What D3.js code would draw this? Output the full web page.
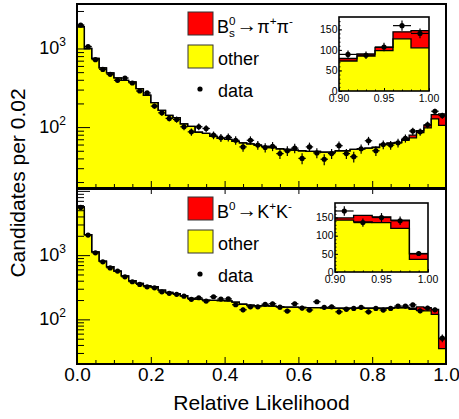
<!DOCTYPE html>
<html>
<head>
<meta charset="utf-8">
<script src="https://cdn.jsdelivr.net/npm/d3@7"></script>
<style>
  body { margin: 0; background: #fff; }
  text { font-family: "Liberation Sans", Arial, Helvetica, sans-serif; }
</style>
</head>
<body>
<div id="viz"></div>
<script>
const width = 459;
const height = 419;
const binWidth = 0.02; // 50 bins over [0, 1]

// ---- upper panel: Bs -> pi+ pi- ----
const topData = [1985, 1060, 720, 542, 469, 394, 421, 364, 288, 272, 185, 152, 129, 125, 101, 87, 101,
  96, 79, 73, 74, 68, 56, 68, 59, 55, 57, 46, 50, 54, 40, 56, 47, 39, 46, 58, 46, 42, 53, 67, 50, 60, 59, 63, 72,
  89, 87, 107, 159, 140];
const topOther = [1890, 1000, 746, 566, 489, 422, 394, 375, 308, 254, 205, 163, 141, 132, 110, 102, 86,
  83, 76, 72, 70, 66, 63, 61, 59, 57, 55, 53, 52, 51, 50, 49, 49, 48, 48, 50, 50, 52, 53, 54, 55, 60, 62, 63, 68,
  73, 85, 98, 127, 105];
const topSignal = [0, 0, 0, 0, 0, 0, 0, 0, 0, 0, 0, 0, 0, 0, 0, 0, 0, 0, 0, 0, 0, 0, 0, 0, 0,
  0, 0, 0, 0, 0, 0, 0, 0, 0, 0, 0, 0, 0, 0, 0, 0.5, 0.5, 1, 1, 2,
  6, 5, 8, 17, 42];

// ---- lower panel: B0 -> K+ K- ----
const botData = [5520, 2050, 1085, 787, 633, 564, 460, 385, 350, 321, 310, 268, 254, 245, 230, 205, 217,
  193, 225, 207, 208, 169, 141, 157, 157, 172, 175, 155, 135, 175, 150, 140, 188, 154, 157, 131, 144, 148, 154, 131, 148, 140, 148, 161, 161,
  168, 136, 150, 141, 51];
const botOther = [5630, 2090, 1127, 806, 659, 564, 477, 399, 363, 334, 322, 286, 263, 251, 233, 212, 207,
  200, 198, 196, 194, 185, 172, 167, 164, 163, 161, 158, 155, 155, 154, 152, 152, 151, 150, 149, 149, 149, 149, 149, 149, 149, 150, 151, 151,
  143, 138, 136, 120, 35];
const botSignal = [0, 0, 0, 0, 0, 0, 0, 0, 0, 0, 0, 0, 0, 0, 0, 0, 0, 0, 0, 0, 0, 0, 0, 0, 0,
  0, 0, 0, 0, 0, 0, 0, 0, 0, 0, 0, 0, 0, 0, 0, 1, 1, 1, 2, 2,
  6, 18, 16, 23, 15];

const xTicks = [0, 0.2, 0.4, 0.6, 0.8, 1.0];
const yLabelTicks = [100, 1000];
const insetXTicks = [0.90, 0.95, 1.00];
const insetYTicks = [0, 50, 100, 150];
const insetFirstBin = 45; // 0.90 - 1.00

// legend labels (text pieces; sub / superscripts)
const topSignalLabel = [{t: 'B'}, {t: 's', small: true, shift: 4, stack: true}, {t: '0', small: true, shift: -8},
  {t: '\u2192', arrow: true}, {t: '\u03c0'}, {t: '+', small: true, shift: -8}, {t: '\u03c0'}, {t: '-', small: true, shift: -8}];
const botSignalLabel = [{t: 'B'}, {t: '0', small: true, shift: -8},
  {t: '\u2192', arrow: true}, {t: ' K'}, {t: '+', small: true, shift: -8}, {t: 'K'}, {t: '-', small: true, shift: -8}];

const yellow = '#ffff00';
const red = '#ff0000';

const svg = d3.select('#viz').append('svg')
  .attr('width', width)
  .attr('height', height);

const x = d3.scaleLinear().domain([0, 1]).range([77, 446]);

const panels = [
  {id: 'top', data: topData, other: topOther, signal: topSignal, top: 4, bottom: 188, domain: [16.8, 3680],
   label: topSignalLabel, legY: 12, inset: {left: 339, right: 429, top: 17, bottom: 91, ymax: 180}, xLabels: false},
  {id: 'bot', data: botData, other: botOther, signal: botSignal, top: 189, bottom: 364, domain: [20.2, 10700],
   label: botSignalLabel, legY: 197, inset: {left: 335, right: 428, top: 203, bottom: 272, ymax: 190}, xLabels: true}
];

const richText = (g, x0, y0, pieces, size) => {
  let cx = x0;
  pieces.forEach(p => {
    const t = g.append('text')
      .attr('x', cx)
      .attr('y', y0 + (p.shift || 0))
      .attr('font-size', p.small ? size * 0.65 : size)
      .text(p.t);
    if (p.arrow) {
      t.attr('font-family', '"DejaVu Sans", sans-serif')
        .attr('font-size', size * 1.15)
        .attr('x', cx + 1)
        .attr('y', y0 - 1.5);
      cx += 1;
    }
    if (!p.stack) cx += t.node().getComputedTextLength();
  });
};

const drawHist = (g, xs, ys, other, signal, yBase, first) => {
  const edges = other.map((d, i) => (first + i) * binWidth).concat([(first + other.length) * binWidth]);
  const total = other.map((d, i) => d + signal[i]);
  const pad = arr => arr.concat([arr[arr.length - 1]]);

  const yellowArea = d3.area()
    .x((d, i) => xs(edges[i]))
    .y0(yBase)
    .y1(d => ys(d))
    .curve(d3.curveStepAfter);
  g.append('path').attr('d', yellowArea(pad(other))).attr('fill', yellow);

  const redArea = d3.area()
    .x((d, i) => xs(edges[i]))
    .y0(d => ys(d[0]))
    .y1(d => ys(d[1]))
    .curve(d3.curveStepAfter);
  g.append('path')
    .attr('d', redArea(pad(other.map((d, i) => [d, total[i]]))))
    .attr('fill', red);

  const outline = d3.line()
    .x((d, i) => xs(edges[i]))
    .y(d => ys(d))
    .curve(d3.curveStepAfter);
  [other, total].forEach(arr => {
    g.append('path')
      .attr('d', outline(pad(arr)))
      .attr('fill', 'none')
      .attr('stroke', '#000')
      .attr('stroke-width', 1.3);
  });
};

const drawPoints = (g, xs, ys, data, first, r) => {
  const pts = g.append('g').selectAll('g')
    .data(data)
    .join('g');
  pts.append('line')
    .attr('x1', (d, i) => xs((first + i) * binWidth))
    .attr('x2', (d, i) => xs((first + i + 1) * binWidth))
    .attr('y1', d => ys(d)).attr('y2', d => ys(d))
    .attr('stroke', '#000').attr('stroke-width', 1.2);
  pts.append('line')
    .attr('x1', (d, i) => xs((first + i + 0.5) * binWidth))
    .attr('x2', (d, i) => xs((first + i + 0.5) * binWidth))
    .attr('y1', d => ys(d - Math.sqrt(d)))
    .attr('y2', d => ys(d + Math.sqrt(d)))
    .attr('stroke', '#000').attr('stroke-width', 1.2);
  pts.append('circle')
    .attr('cx', (d, i) => xs((first + i + 0.5) * binWidth))
    .attr('cy', d => ys(d))
    .attr('r', r)
    .attr('fill', '#000');
};

panels.forEach(p => {
  const y = d3.scaleLog().domain(p.domain).range([p.bottom, p.top]);
  const g = svg.append('g');

  svg.append('clipPath').attr('id', 'clip-' + p.id)
    .append('rect')
    .attr('x', x(0)).attr('y', p.top)
    .attr('width', x(1) - x(0)).attr('height', p.bottom - p.top);

  const plot = g.append('g').attr('clip-path', `url(#clip-${p.id})`);
  drawHist(plot, x, y, p.other, p.signal, p.bottom, 0);
  drawPoints(plot, x, y, p.data, 0, 2.6);

  // y axis: major and minor ticks
  const majors = y.ticks().filter(v => Math.abs(Math.log10(v) - Math.round(Math.log10(v))) < 1e-9);
  const minors = y.ticks().filter(v => !majors.includes(v));
  g.append('g')
    .attr('transform', `translate(${x(0)},0)`)
    .call(d3.axisLeft(y).tickValues(majors).tickSize(-13).tickFormat(''))
    .call(a => a.select('.domain').remove());
  g.append('g')
    .attr('transform', `translate(${x(0)},0)`)
    .call(d3.axisLeft(y).tickValues(minors).tickSize(-7).tickFormat(''))
    .call(a => a.select('.domain').remove());
  g.selectAll('.tick line').attr('stroke-width', 1);

  yLabelTicks.forEach(v => {
    const t = g.append('text')
      .attr('x', 66)
      .attr('y', y(v) + 6)
      .attr('text-anchor', 'end')
      .attr('font-size', 18);
    t.append('tspan').text('10');
    t.append('tspan').attr('dy', -8).attr('font-size', 12).text(Math.round(Math.log10(v)));
  });

  // x axis ticks (pointing inward)
  const xMinor = d3.range(0, 1.0001, 0.05).filter(v => !xTicks.some(t => Math.abs(t - v) < 1e-6));
  const xAxisMajor = g.append('g')
    .attr('transform', `translate(0,${p.bottom})`)
    .call(d3.axisBottom(x).tickValues(xTicks).tickSize(-7).tickPadding(4)
      .tickFormat(p.xLabels ? d3.format('.1f') : ''))
    .call(a => a.select('.domain').remove());
  xAxisMajor.selectAll('text')
    .attr('font-size', 19)
    .attr('font-family', '"Liberation Sans", Arial, sans-serif')
    .attr('fill', '#000');
  g.append('g')
    .attr('transform', `translate(0,${p.bottom})`)
    .call(d3.axisBottom(x).tickValues(xMinor).tickSize(-4).tickFormat(''))
    .call(a => a.select('.domain').remove());
  if (p.xLabels) {
    g.append('g')
      .attr('transform', `translate(0,${p.top})`)
      .call(d3.axisTop(x).tickValues(xTicks).tickSize(-5).tickFormat(''))
      .call(a => a.select('.domain').remove());
  }

  // frame
  g.append('rect')
    .attr('x', x(0)).attr('y', p.top)
    .attr('width', x(1) - x(0)).attr('height', p.bottom - p.top)
    .attr('fill', 'none').attr('stroke', '#000').attr('stroke-width', 2);

  // legend
  const leg = g.append('g');
  leg.append('rect').attr('x', 188).attr('y', p.legY).attr('width', 25).attr('height', 23)
    .attr('fill', red).attr('stroke', '#333').attr('stroke-width', 1);
  leg.append('rect').attr('x', 188).attr('y', p.legY + 33).attr('width', 25).attr('height', 23)
    .attr('fill', yellow).attr('stroke', '#333').attr('stroke-width', 1);
  leg.append('circle').attr('cx', 200).attr('cy', p.legY + 77).attr('r', 2.6).attr('fill', '#000');
  richText(leg, 217, p.legY + 21, p.label, 18);
  leg.append('text').attr('x', 218).attr('y', p.legY + 53).attr('font-size', 18).text('other');
  leg.append('text').attr('x', 218).attr('y', p.legY + 85).attr('font-size', 18).text('data');

  // inset, last five bins on a linear scale
  const ins = p.inset;
  const xi = d3.scaleLinear().domain([0.9, 1.0]).range([ins.left, ins.right]);
  const yi = d3.scaleLinear().domain([0, ins.ymax]).range([ins.bottom, ins.top]);
  const ig = g.append('g');
  ig.append('rect')
    .attr('x', ins.left).attr('y', ins.top)
    .attr('width', ins.right - ins.left).attr('height', ins.bottom - ins.top)
    .attr('fill', '#fff');
  drawHist(ig, xi, yi, p.other.slice(insetFirstBin), p.signal.slice(insetFirstBin), ins.bottom, insetFirstBin);
  drawPoints(ig, xi, yi, p.data.slice(insetFirstBin), insetFirstBin, 2.6);

  ig.append('g')
    .attr('transform', `translate(${ins.left},0)`)
    .call(d3.axisLeft(yi).tickValues(insetYTicks).tickSize(-3).tickFormat(''))
    .call(a => a.select('.domain').remove());
  ig.append('g')
    .attr('transform', `translate(${ins.left},0)`)
    .call(d3.axisLeft(yi).tickValues(d3.range(10, ins.ymax, 10)).tickSize(-1.5).tickFormat(''))
    .call(a => a.select('.domain').remove());
  ig.append('g')
    .attr('transform', `translate(0,${ins.bottom})`)
    .call(d3.axisBottom(xi).tickValues(insetXTicks).tickSize(-3).tickFormat(''))
    .call(a => a.select('.domain').remove());
  ig.append('g')
    .attr('transform', `translate(0,${ins.bottom})`)
    .call(d3.axisBottom(xi).tickValues(d3.range(0.91, 0.995, 0.01)).tickSize(-1.5).tickFormat(''))
    .call(a => a.select('.domain').remove());

  insetYTicks.forEach(v => {
    ig.append('text')
      .attr('x', ins.left - 1.5).attr('y', yi(v)).attr('dy', '0.36em')
      .attr('text-anchor', 'end').attr('font-size', 10.5)
      .text(v);
  });
  insetXTicks.forEach(v => {
    ig.append('text')
      .attr('x', xi(v)).attr('y', ins.bottom + 7).attr('dy', '0.36em')
      .attr('text-anchor', 'middle').attr('font-size', 10.5)
      .text(d3.format('.2f')(v));
  });

  ig.append('rect')
    .attr('x', ins.left).attr('y', ins.top)
    .attr('width', ins.right - ins.left).attr('height', ins.bottom - ins.top)
    .attr('fill', 'none').attr('stroke', '#000').attr('stroke-width', 1.6);
});

// axis titles
svg.append('text')
  .attr('x', (x(0) + x(1)) / 2).attr('y', 410)
  .attr('text-anchor', 'middle').attr('font-size', 21)
  .text('Relative Likelihood');
svg.append('text')
  .attr('transform', 'translate(25,183) rotate(-90)')
  .attr('text-anchor', 'middle').attr('font-size', 21)
  .text('Candidates per 0.02');
</script>
</body>
</html>
